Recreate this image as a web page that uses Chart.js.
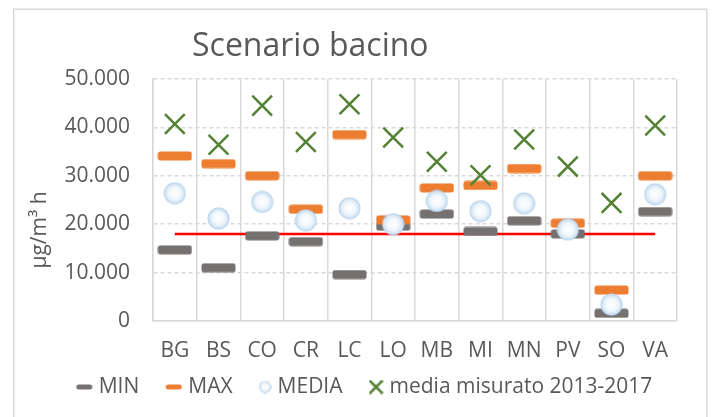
<!DOCTYPE html>
<html>
<head>
<meta charset="utf-8">
<script src="https://cdn.jsdelivr.net/npm/chart.js@4.4.1/dist/chart.umd.min.js"></script>
<style>
  html, body { margin: 0; padding: 0; background: #fff; }
  canvas { display: block; }
</style>
</head>
<body>
<canvas id="bacinoChart" width="712" height="417"></canvas>
<script>
// Province codes and concentration values (µg/m³ h)
const provinces = ['BG', 'BS', 'CO', 'CR', 'LC', 'LO', 'MB', 'MI', 'MN', 'PV', 'SO', 'VA'];
const minValues = [14700, 11000, 17600, 16400, 9600, 19600, 22100, 18500, 20700, 18000, 1600, 22600];
const maxValues = [34100, 32500, 30000, 23100, 38500, 20900, 27500, 28000, 31500, 20200, 6400, 30000];
const mediaValues = [26400, 21200, 24600, 20800, 23300, 20000, 24800, 22700, 24300, 18900, 3400, 26200];
const misuratoValues = [40700, 36400, 44500, 37000, 44800, 37900, 32900, 30100, 37500, 31900, 24400, 40400];
const sogliaValues = [18000, 18000, 18000, 18000, 18000, 18000, 18000, 18000, 18000, 18000, 18000, 18000];
const yMin = 0;
const yMax = 50000;
const yStep = 10000;

const FONT = '"Open Sans", "DejaVu Sans", sans-serif';
const TEXT_COLOR = '#595959';
const GRID_COLOR = '#D9D9D9';
const GREEN = '#548235';

// 50000 -> "50.000"
function formatThousands(value) {
    return String(value).replace(/\B(?=(\d{3})+(?!\d))/g, '.');
}

// Rounded dash used for MIN / MAX markers
function dashMarker(w, h, color) {
    const c = document.createElement('canvas');
    c.width = w;
    c.height = h;
    const g = c.getContext('2d');
    g.fillStyle = color;
    g.beginPath();
    g.roundRect(0.5, 0.5, w - 1, h - 1, Math.min(2.5, h / 2));
    g.fill();
    return c;
}

// Pale blue bubble used for MEDIA
function bubbleMarker(d) {
    const c = document.createElement('canvas');
    c.width = d;
    c.height = d;
    const g = c.getContext('2d');
    const r = d / 2;
    const grad = g.createRadialGradient(r, r, 0, r, r, r);
    grad.addColorStop(0, '#ffffff');
    grad.addColorStop(0.5, '#f3f8fd');
    grad.addColorStop(0.78, '#d7e7f6');
    grad.addColorStop(0.92, '#bad4ee');
    grad.addColorStop(1, 'rgba(189, 215, 238, 0)');
    g.fillStyle = grad;
    g.beginPath();
    g.arc(r, r, r, 0, Math.PI * 2);
    g.fill();
    return c;
}

// Small green "x" for the legend
function crossMarker(size, width) {
    const c = document.createElement('canvas');
    c.width = size;
    c.height = size;
    const g = c.getContext('2d');
    g.strokeStyle = GREEN;
    g.lineWidth = width;
    g.beginPath();
    g.moveTo(1, 1); g.lineTo(size - 1, size - 1);
    g.moveTo(size - 1, 1); g.lineTo(1, size - 1);
    g.stroke();
    return c;
}

const minMarker = dashMarker(35, 10, '#767171');
const maxMarker = dashMarker(35, 10, '#ED7D31');
const mediaMarker = bubbleMarker(23);
const legendMarkers = [dashMarker(17, 6, '#767171'), dashMarker(17, 6, '#ED7D31'), bubbleMarker(13), crossMarker(15, 2.5)];

// Outer frame, title, rotated unit label and the legend row
const chartDecor = {
    id: 'chartDecor',
    beforeDraw(chart) {
        const c = chart.ctx;
        c.save();
        c.fillStyle = '#fff';
        c.fillRect(0, 0, chart.width, chart.height);
        c.strokeStyle = GRID_COLOR;
        c.lineWidth = 1.5;
        c.strokeRect(13.75, 9.25, 693, 420);
        c.restore();
    },
    afterDraw(chart) {
        const c = chart.ctx;
        c.save();
        c.fillStyle = TEXT_COLOR;
        c.font = '32px ' + FONT;
        c.textAlign = 'left';
        c.textBaseline = 'alphabetic';
        c.fillText('Scenario bacino', 192, 56);

        // legend: marker, text, then a gap before the next entry
        c.font = '21px ' + FONT;
        c.textBaseline = 'middle';
        const gapText = 6, gapItem = 26, rowY = 387;
        const items = legendMarkers.map((m, i) => ({
            marker: m,
            text: chart.data.datasets[i].label,
            w: m.width + gapText + c.measureText(chart.data.datasets[i].label).width
        }));
        const total = items.reduce((s, it) => s + it.w, 0) + gapItem * (items.length - 1);
        let x = 364 - total / 2;
        items.forEach(it => {
            c.drawImage(it.marker, x, rowY - it.marker.height / 2);
            c.fillText(it.text, x + it.marker.width + gapText, rowY);
            x += it.w + gapItem;
        });

        c.translate(40, 230);
        c.rotate(-Math.PI / 2);
        c.textAlign = 'center';
        c.fillText('µg/m³ h', 0, 0);
        c.restore();
    }
};

const ctx = document.getElementById('bacinoChart').getContext('2d');

new Chart(ctx, {
    type: 'line',
    data: {
        labels: provinces,
        datasets: [
            {
                label: 'MIN',
                data: minValues,
                showLine: false,
                pointStyle: minMarker,
                pointRadius: 10,
                borderColor: '#767171',
                order: 4
            },
            {
                label: 'MAX',
                data: maxValues,
                showLine: false,
                pointStyle: maxMarker,
                pointRadius: 10,
                borderColor: '#ED7D31',
                order: 3
            },
            {
                label: 'MEDIA',
                data: mediaValues,
                showLine: false,
                pointStyle: mediaMarker,
                pointRadius: 10,
                borderColor: '#BDD7EE',
                order: 2
            },
            {
                label: 'media misurato 2013-2017',
                data: misuratoValues,
                showLine: false,
                pointStyle: 'crossRot',
                pointRadius: 14,
                pointBorderWidth: 2.5,
                borderColor: GREEN,
                order: 1
            },
            {
                label: 'soglia',
                data: sogliaValues,
                borderColor: '#FF0000',
                borderWidth: 2.5,
                pointRadius: 0,
                order: 5
            }
        ]
    },
    options: {
        responsive: false,
        animation: false,
        events: [],
        layout: {
            padding: { left: 14, right: 35, top: 79, bottom: 0 }
        },
        plugins: {
            title: { display: false },
            tooltip: { enabled: false },
            legend: { display: false }
        },
        scales: {
            x: {
                offset: true,
                grid: { offset: true, color: GRID_COLOR, lineWidth: 1.5, drawTicks: false },
                border: { display: true, color: GRID_COLOR, width: 1.5 },
                ticks: { color: TEXT_COLOR, font: { family: FONT, size: 21 }, padding: 17 },
                afterFit: function(scale) { scale.height = 96; }
            },
            y: {
                min: yMin,
                max: yMax,
                ticks: {
                    stepSize: yStep,
                    padding: 23,
                    color: TEXT_COLOR,
                    font: { family: FONT, size: 21 },
                    callback: value => formatThousands(value)
                },
                grid: { color: GRID_COLOR, lineWidth: 1.5, drawTicks: false },
                border: { display: true, color: GRID_COLOR, width: 1.5, dash: [4, 3] },
                afterFit: function(scale) { scale.width = 139; }
            }
        }
    },
    plugins: [chartDecor]
});
</script>
</body>
</html>
